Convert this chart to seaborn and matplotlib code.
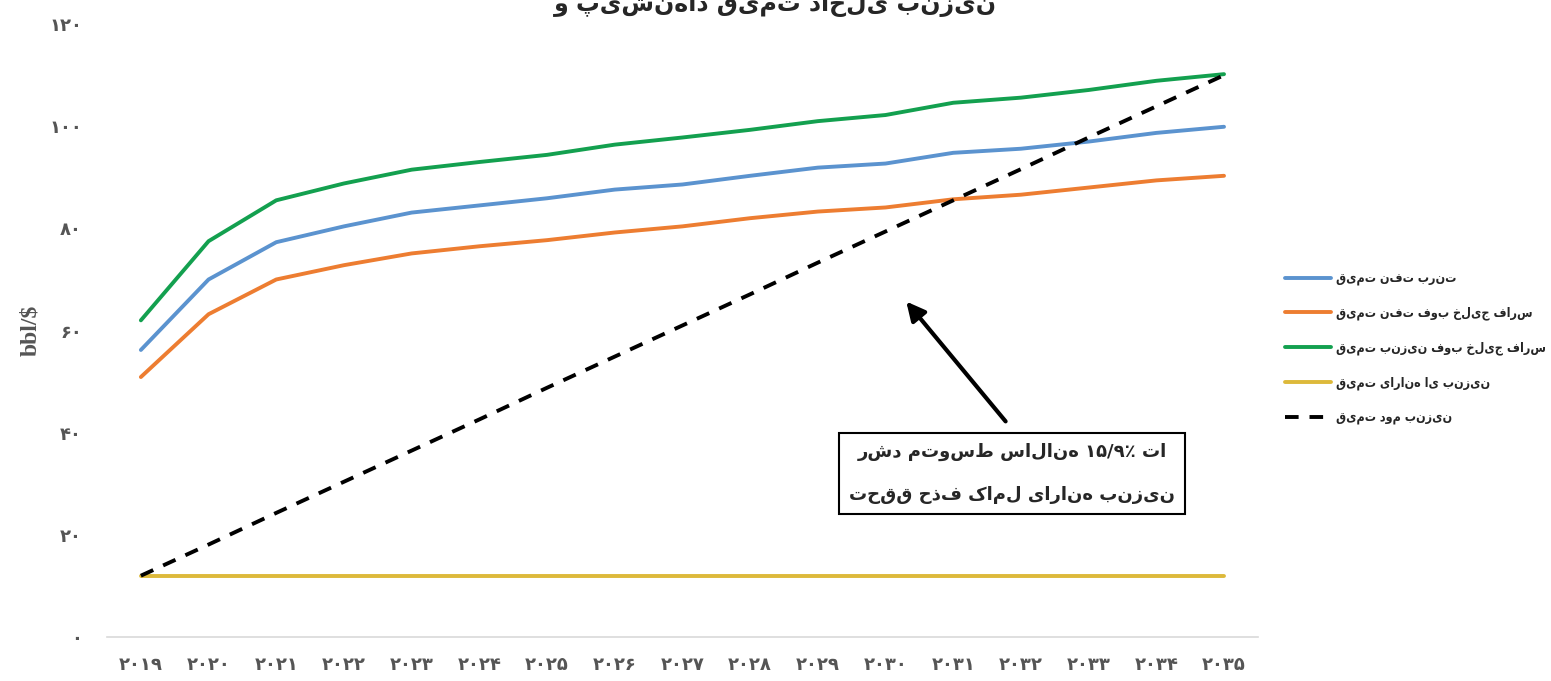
import matplotlib
import matplotlib.pyplot as plt
import seaborn as sns
import pandas as pd
matplotlib.use('Agg')

years = list(range(2019, 2036))
brent = [56.2, 70.0, 77.3, 80.4, 83.1, 84.5, 85.9, 87.6, 88.6, 90.3, 91.9, 92.7, 94.8, 95.6, 97.0, 98.7, 99.9]
fob_crude = [50.9, 63.2, 70.0, 72.8, 75.1, 76.5, 77.7, 79.2, 80.4, 82.0, 83.3, 84.1, 85.7, 86.6, 88.0, 89.4, 90.3]
fob_gasoline = [62.0, 77.5, 85.5, 88.8, 91.5, 93.0, 94.4, 96.4, 97.8, 99.3, 101.0, 102.2, 104.6, 105.6, 107.1, 108.9, 110.2]
subsidized = [12.0] * 17
second_price = [12.0, 18.1, 24.3, 30.4, 36.5, 42.6, 48.8, 54.9, 61.0, 67.1, 73.3, 79.4, 85.5, 91.6, 97.8, 103.9, 110.0]

series_names = ['قیمت نفت برنت', 'قیمت نفت فوب خلیج فارس', 'قیمت بنزین فوب خلیج فارس',
                'قیمت یارانه ای بنزین', 'قیمت دوم بنزین']
series_colors = ['#5B93CF', '#ED7D31', '#13A04F', '#DDB93A', 'black']
title_text = 'و پیشنهاد قیمت داخلی بنزین'
note_text = 'رشد متوسط سالانه ۱۵/۹٪ تا\nتحقق حذف کامل یارانه بنزین'
y_ticks = [0, 20, 40, 60, 80, 100, 120]


def fa_digits(v):
    return str(v).translate(str.maketrans('0123456789', '۰۱۲۳۴۵۶۷۸۹'))


sns.set_style('white')
plt.rcParams['font.family'] = ['DejaVu Sans']

rows = []
for name, vals in zip(series_names, [brent, fob_crude, fob_gasoline, subsidized, second_price]):
    for i, v in enumerate(vals):
        rows.append({'idx': i, 'value': v, 'series': name})
df = pd.DataFrame(rows)

fig = plt.figure(figsize=(15.51, 6.81), dpi=100)
ax = fig.add_axes([0.069, 0.0646, 0.742, 0.9])

sns.lineplot(data=df, x='idx', y='value', hue='series', style='series',
             hue_order=series_names, style_order=series_names,
             palette=dict(zip(series_names, series_colors)),
             dashes={n: ((3.5, 2.8) if n == series_names[-1] else '') for n in series_names},
             linewidth=2.8, ax=ax)

handles, labels = ax.get_legend_handles_labels()
ax.legend_.remove()
fig.legend(handles, labels, loc='upper left',
           bbox_to_anchor=(0.821, 0.617), frameon=False, handlelength=3.75,
           labelspacing=1.7, handletextpad=0.4,
           prop={'weight': 'bold', 'size': 9, 'stretch': 'condensed'})

ax.set_xlim(-0.5, 16.5)
ax.set_ylim(0, 120)
ax.set_xticks(range(len(years)))
ax.set_xticklabels([fa_digits(y) for y in years], fontsize=13, fontweight='bold', color='#555555')
ax.set_yticks(y_ticks)
ax.set_yticklabels([fa_digits(y) for y in y_ticks], fontsize=13, fontweight='bold', color='#555555')
ax.tick_params(axis='x', length=0, pad=14)
ax.tick_params(axis='y', length=0, pad=18)
ax.set_xlabel('')
ax.set_ylabel('bbl/$', fontsize=17, fontweight='bold', color='#555555',
              family='Liberation Serif', labelpad=6)
for s in ['top', 'right', 'left']:
    ax.spines[s].set_visible(False)
ax.spines['bottom'].set_color('#D9D9D9')
ax.spines['bottom'].set_linewidth(1.2)

ax.annotate('', xy=(11.28, 66.1), xytext=(12.8, 41.8),
            arrowprops=dict(arrowstyle='-|>', lw=3, color='black', mutation_scale=28))
ax.text(12.87, 32.0, note_text, ha='center', va='center',
        fontsize=13, fontweight='bold', linespacing=2.8,
        bbox=dict(boxstyle='square,pad=0.55', facecolor='white', edgecolor='black', linewidth=1.5))

fig.text(0.5, 0.992, title_text, ha='center', va='center', fontsize=17, fontweight='bold')

fig.savefig('out.png', dpi=100)
